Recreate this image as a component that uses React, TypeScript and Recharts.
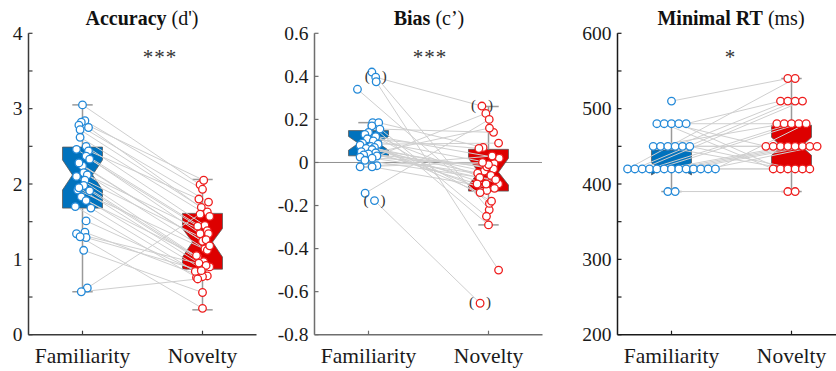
import React from 'react';
import { ComposedChart, XAxis, YAxis, Scatter, ReferenceLine, ReferenceArea } from 'recharts';

const categories = ['Familiarity', 'Novelty'];

// ---------- Accuracy (d') ----------
const accFamiliarity = [3.05, 2.84, 2.82, 2.78, 2.75, 2.72, 2.62, 2.5, 2.46, 2.44, 2.37, 2.33, 2.24, 2.15, 2.12, 2.1, 2.05, 1.98, 1.92, 1.91, 1.83, 1.78, 1.7, 1.68, 1.51, 1.36, 1.34, 1.29, 1.12, 1.3, 0.62, 0.57, 2.28, 1.95];
const accNovelty = [1.99, 1.93, 2.05, 1.76, 1.63, 1.69, 1.57, 1.45, 1.38, 1.8, 1.34, 1.44, 1.24, 1.14, 1.34, 1.03, 1.26, 0.97, 1.12, 0.9, 0.87, 1.05, 0.76, 0.84, 0.78, 0.77, 0.92, 0.85, 0.56, 0.35, 1.6, 0.74, 1.18, 0.95];
const accFamJitter = [0.0, 0.02, -0.01, -0.03, 0.05, -0.02, -0.02, 0.03, -0.05, 0.05, 0.03, 0.06, 0.0, 0.01, 0.04, -0.05, 0.02, 0.01, -0.04, 0.06, -0.01, 0.03, -0.06, 0.07, 0.03, 0.02, -0.05, 0.03, 0.01, -0.02, 0.04, -0.01, -0.03, -0.03];
const accNovJitter = [-0.02, 0.0, 0.01, 0.05, 0.04, -0.01, 0.06, 0.02, 0.04, -0.03, -0.02, -0.04, 0.0, 0.02, 0.05, -0.04, 0.03, 0.01, 0.04, 0.06, 0.0, -0.05, -0.05, -0.06, 0.04, 0.0, 0.03, -0.01, 0.0, 0.0, -0.02, -0.04, 0.06, -0.03];
// [whiskerLo, q1, notchLo, median, notchHi, q3, whiskerHi]
const accFamBox = [0.57, 1.68, 1.92, 2.12, 2.32, 2.49, 3.05];
const accNovBox = [0.33, 0.87, 1.03, 1.23, 1.41, 1.61, 2.06];
const accTicks = [0, 0.5, 1, 1.5, 2, 2.5, 3, 3.5, 4];
const accTickLabels = ['0', '', '1', '', '2', '', '3', '', '4'];

// ---------- Bias (c') ----------
const biasFamiliarity = [0.42, 0.396, 0.375, 0.34, 0.185, 0.185, 0.17, 0.155, 0.14, 0.13, 0.12, 0.11, 0.1, 0.09, 0.085, 0.08, 0.075, 0.07, 0.065, 0.06, 0.05, 0.045, 0.04, 0.035, 0.03, 0.025, 0.02, 0.01, -0.015, -0.02, -0.02, -0.143, -0.177];
const biasNovelty = [-0.22, 0.262, -0.5, -0.19, -0.25, 0.07, -0.29, 0.14, -0.18, 0.02, -0.1, 0.065, -0.006, -0.13, 0.09, -0.04, -0.1, -0.14, -0.03, -0.05, -0.07, -0.1, -0.02, 0.16, 0.228, -0.01, -0.06, -0.08, 0.03, 0.0, -0.12, 0.2, -0.654];
const biasFamJitter = [0.028, 0.06, 0.064, -0.092, 0.035, 0.085, 0.028, 0.095, 0.0, -0.03, 0.06, -0.01, 0.04, -0.05, 0.08, -0.07, 0.02, 0.05, -0.02, 0.03, -0.06, 0.06, 0.0, -0.04, 0.07, -0.07, 0.03, -0.03, 0.07, -0.07, 0.03, -0.028, 0.05];
const biasNovJitter = [0.006, -0.055, 0.084, 0.008, -0.017, -0.045, 0.0, 0.042, 0.025, 0.09, 0.084, -0.08, 0.047, -0.014, 0.084, -0.035, -0.02, -0.07, 0.042, -0.09, -0.073, -0.095, -0.014, 0.008, -0.022, 0.0, 0.02, 0.06, 0.03, -0.05, 0.05, 0.006, -0.07];
const biasFamExcluded = [1, 32];
const biasNovExcluded = [1, 32];
const biasFamBox = [-0.02, 0.031, 0.057, 0.089, 0.121, 0.148, 0.185];
const biasNovBox = [-0.29, -0.133, -0.105, -0.045, 0.02, 0.061, 0.26];
const biasTicks = [-0.8, -0.6, -0.4, -0.2, 0, 0.2, 0.4, 0.6];
const biasTickLabels = ['-0.8', '-0.6', '-0.4', '-0.2', '0', '0.2', '0.4', '0.6'];

// ---------- Minimal RT (ms) ----------
const rtFamiliarity = [510, 480, 480, 480, 480, 480, 450, 450, 450, 450, 450, 450, 420, 420, 420, 420, 420, 420, 420, 420, 420, 420, 420, 420, 420, 390, 390];
const rtNovelty = [540, 480, 420, 450, 420, 510, 480, 420, 450, 510, 450, 420, 540, 510, 510, 480, 480, 450, 450, 450, 450, 420, 420, 450, 480, 390, 390];
const rtFamBox = [390, 420, 412, 420, 428, 445, 480];
const rtNovBox = [390, 420, 438, 450, 462, 478, 540];
const rtTicks = [200, 250, 300, 350, 400, 450, 500, 550, 600];
const rtTickLabels = ['200', '', '300', '', '400', '', '500', '', '600'];

const FONT = 'Liberation Serif';
const BLUE_BOX = '#0072bd';
const RED_BOX = '#dd0000';
const BLUE_DOT = '#2389d8';
const RED_DOT = '#ee1d1d';
const BOX_HALF = 0.1667;
const SWARM_STEP = 0.061;

// beeswarm offsets for rows of identical values (layout only)
function swarm(values: number[]): number[] {
  const counts: Record<string, number> = {};
  values.forEach((v) => { counts[v] = (counts[v] || 0) + 1; });
  const seen: Record<string, number> = {};
  return values.map((v) => {
    const i = seen[v] || 0;
    seen[v] = i + 1;
    return (i - (counts[v] - 1) / 2) * SWARM_STEP;
  });
}

const XTick = (props: any) => {
  const { x, y, payload, color } = props;
  return (
    <g>
      <line x1={x} x2={x} y1={y} y2={y - 4} stroke={color} strokeWidth={1.2} />
      <text x={x} y={y + 28} textAnchor="middle" fontFamily={FONT} fontSize={21.5} fill="#1a1a1a">
        {categories[Math.round(payload.value) - 1]}
      </text>
    </g>
  );
};

const YTick = (props: any) => {
  const { x, y, payload, color, ticks, labels } = props;
  const idx = ticks.findIndex((t: number) => Math.abs(t - payload.value) < 1e-9);
  const lab = idx >= 0 ? labels[idx] : '';
  return (
    <g>
      <line x1={x} x2={x + 4} y1={y} y2={y} stroke={color} strokeWidth={1.2} />
      {lab !== '' && (
        <text x={x - 6} y={y + 6.6} textAnchor="end" fontFamily={FONT} fontSize={19.5} fill="#1a1a1a">
          {lab}
        </text>
      )}
    </g>
  );
};

const NotchBox = (props: any) => {
  const { x, y, width, height, box, fill } = props;
  const [, q1, nLo, med, nHi, q3] = box;
  const py = (v: number) => y + ((q3 - v) / (q3 - q1)) * height;
  const L = x;
  const R = x + width;
  const ins = width / 4;
  const pts = [
    [L, py(q1)], [L, py(nLo)], [L + ins, py(med)], [L, py(nHi)], [L, py(q3)],
    [R, py(q3)], [R, py(nHi)], [R - ins, py(med)], [R, py(nLo)], [R, py(q1)],
  ];
  return <polygon points={pts.map((p) => p.join(',')).join(' ')} fill={fill} stroke="#5a5a5a" strokeWidth={0.8} />;
};

const ZeroLineShape = (props: any) => {
  const { x, y, width, height } = props;
  const yc = y + height / 2;
  return <line x1={x} x2={x + width} y1={yc} y2={yc} stroke="#222" strokeWidth={1} strokeDasharray="1 1" />;
};

const makeDot = (color: string) => (props: any) => {
  const { cx, cy, payload } = props;
  return (
    <g>
      <circle cx={cx} cy={cy} r={3.8} fill="#ffffff" stroke={color} strokeWidth={1.3} />
      {payload && payload.excl && (
        <g fill="#333" fontFamily={FONT} fontSize={15}>
          <text x={cx - 8.5} y={cy + 4} textAnchor="middle">(</text>
          <text x={cx + 8.5} y={cy + 4} textAnchor="middle">)</text>
        </g>
      )}
    </g>
  );
};

function boxElements(center: number, box: number[], fill: string, key: string) {
  const [wLo, q1, , , , q3, wHi] = box;
  const wc = '#9a9a9a';
  return [
    <ReferenceLine key={key + 'w1'} segment={[{ x: center, y: q3 }, { x: center, y: wHi }]} stroke={wc} strokeWidth={1.5} ifOverflow="visible" />,
    <ReferenceLine key={key + 'w2'} segment={[{ x: center, y: wLo }, { x: center, y: q1 }]} stroke={wc} strokeWidth={1.5} ifOverflow="visible" />,
    <ReferenceLine key={key + 'c1'} segment={[{ x: center - 0.085, y: wHi }, { x: center + 0.085, y: wHi }]} stroke={wc} strokeWidth={1.5} ifOverflow="visible" />,
    <ReferenceLine key={key + 'c2'} segment={[{ x: center - 0.085, y: wLo }, { x: center + 0.085, y: wLo }]} stroke={wc} strokeWidth={1.5} ifOverflow="visible" />,
    <ReferenceArea
      key={key + 'box'}
      x1={center - BOX_HALF}
      x2={center + BOX_HALF}
      y1={q1}
      y2={q3}
      ifOverflow="visible"
      shape={(p: any) => <NotchBox {...p} box={box} fill={fill} />}
    />,
  ];
}

type PanelProps = {
  left: number;
  width: number;
  yAxisWidth: number;
  domain: [number, number];
  ticks: number[];
  labels: string[];
  fam: number[];
  nov: number[];
  famJit: number[];
  novJit: number[];
  famBox: number[];
  novBox: number[];
  famExcl?: number[];
  novExcl?: number[];
  axisColor: string;
  zeroLine?: boolean;
};

function Panel(p: PanelProps) {
  const famPts = p.fam.map((v, i) => ({ x: 1 + p.famJit[i], y: v, excl: (p.famExcl || []).includes(i) }));
  const novPts = p.nov.map((v, i) => ({ x: 2 + p.novJit[i], y: v, excl: (p.novExcl || []).includes(i) }));
  return (
    <div style={{ position: 'absolute', left: p.left, top: 0 }}>
      <ComposedChart width={p.width} height={371} margin={{ top: 33.3, right: 11.5, bottom: 0, left: 0 }}>
        <XAxis
          type="number"
          dataKey="x"
          domain={[0.55, 2.45]}
          ticks={[1, 2]}
          interval={0}
          allowDataOverflow
          height={36.3}
          axisLine={{ stroke: p.axisColor, strokeWidth: 1.5 }}
          tickLine={false}
          tickSize={0}
          tickMargin={0}
          tick={<XTick color={p.axisColor} />}
        />
        <YAxis
          type="number"
          dataKey="y"
          domain={p.domain}
          ticks={p.ticks}
          interval={0}
          allowDataOverflow
          width={p.yAxisWidth}
          axisLine={{ stroke: p.axisColor, strokeWidth: 1.5 }}
          tickLine={false}
          tickSize={0}
          tickMargin={0}
          tick={<YTick color={p.axisColor} ticks={p.ticks} labels={p.labels} />}
        />
        {p.zeroLine && (
          <ReferenceArea x1={0.55} x2={2.45} y1={-0.0005} y2={0.0005} ifOverflow="visible" shape={(s: any) => <ZeroLineShape {...s} />} />
        )}
        {boxElements(1, p.famBox, BLUE_BOX, 'f')}
        {boxElements(2, p.novBox, RED_BOX, 'n')}
        {famPts.map((f, i) => (
          <ReferenceLine
            key={'pair' + i}
            segment={[{ x: f.x, y: f.y }, { x: novPts[i].x, y: novPts[i].y }]}
            stroke="#cfcfcf"
            strokeWidth={1}
            ifOverflow="visible"
          />
        ))}
        <Scatter data={famPts} fill={BLUE_DOT} shape={makeDot(BLUE_DOT)} isAnimationActive={false} />
        <Scatter data={novPts} fill={RED_DOT} shape={makeDot(RED_DOT)} isAnimationActive={false} />
      </ComposedChart>
    </div>
  );
}

export default function App() {
  return (
    <div style={{ position: 'absolute', left: 0, top: 0, width: 836, height: 371, overflow: 'hidden', background: '#fff', fontFamily: FONT }}>
      <Panel
        left={0}
        width={268}
        yAxisWidth={28.5}
        domain={[0, 4]}
        ticks={accTicks}
        labels={accTickLabels}
        fam={accFamiliarity}
        nov={accNovelty}
        famJit={accFamJitter}
        novJit={accNovJitter}
        famBox={accFamBox}
        novBox={accNovBox}
        axisColor="#3a3a3a"
      />
      <Panel
        left={265}
        width={289}
        yAxisWidth={49.5}
        domain={[-0.8, 0.6]}
        ticks={biasTicks}
        labels={biasTickLabels}
        fam={biasFamiliarity}
        nov={biasNovelty}
        famJit={biasFamJitter}
        novJit={biasNovJitter}
        famBox={biasFamBox}
        novBox={biasNovBox}
        famExcl={biasFamExcluded}
        novExcl={biasNovExcluded}
        axisColor="#6e6e6e"
        zeroLine
      />
      <Panel
        left={560}
        width={297}
        yAxisWidth={57.5}
        domain={[200, 600]}
        ticks={rtTicks}
        labels={rtTickLabels}
        fam={rtFamiliarity}
        nov={rtNovelty}
        famJit={swarm(rtFamiliarity)}
        novJit={swarm(rtNovelty)}
        famBox={rtFamBox}
        novBox={rtNovBox}
        axisColor="#1a1a1a"
      />
      <svg width={836} height={371} style={{ position: 'absolute', left: 0, top: 0, pointerEvents: 'none' }}>
        <g fill="#111" textAnchor="middle" fontFamily={FONT} fontSize={20}>
          <text x={142} y={25}><tspan fontWeight="bold">Accuracy</tspan> (d')</text>
          <text x={429} y={25}><tspan fontWeight="bold">Bias</tspan> (c’)</text>
          <text x={731} y={25}><tspan fontWeight="bold">Minimal RT</tspan> (ms)</text>
        </g>
        <g fill="#333" textAnchor="middle" fontFamily={FONT} fontSize={21}>
          <text x={160} y={64} letterSpacing={1}>***</text>
          <text x={430} y={64} letterSpacing={1}>***</text>
          <text x={730} y={64}>*</text>
        </g>
      </svg>
    </div>
  );
}
